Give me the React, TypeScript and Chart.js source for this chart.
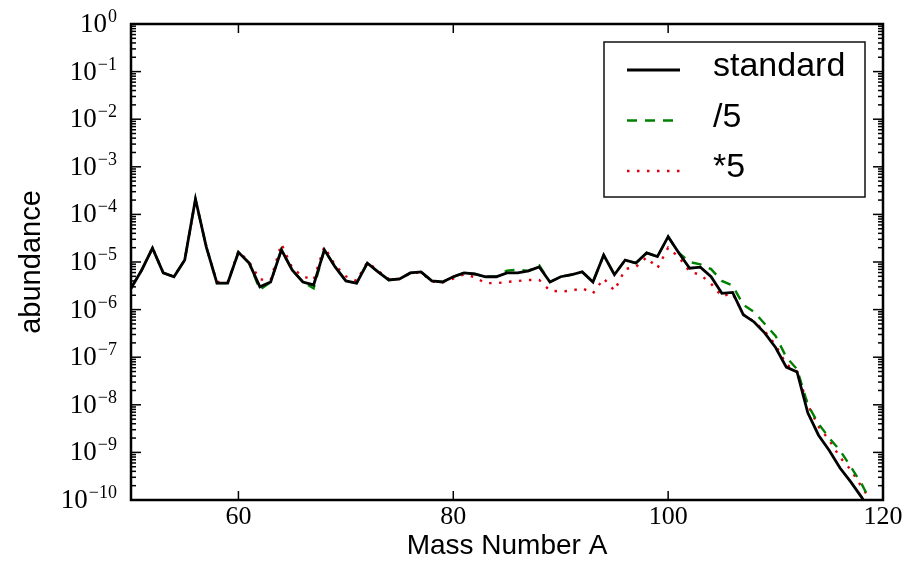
import React, { useEffect, useRef } from "react";
import { Chart, registerables } from "chart.js";

Chart.register(...registerables);

const massNumbers = [
  50, 51, 52, 53, 54, 55, 56, 57, 58, 59,
  60, 61, 62, 63, 64, 65, 66, 67, 68, 69,
  70, 71, 72, 73, 74, 75, 76, 77, 78, 79,
  80, 81, 82, 83, 84, 85, 86, 87, 88, 89,
  90, 91, 92, 93, 94, 95, 96, 97, 98, 99,
  100, 101, 102, 103, 104, 105, 106, 107, 108, 109,
  110, 111, 112, 113, 114, 115, 116, 117, 118, 119,
  120,
];

const standard = [
  2.8e-6, 6.8e-6, 1.95e-5, 5.9e-6, 4.9e-6, 1.1e-5, 2.1e-4, 2.1e-5, 3.6e-6, 3.6e-6,
  1.6e-5, 9.5e-6, 3.0e-6, 3.8e-6, 1.8e-5, 6.8e-6, 3.8e-6, 3.3e-6, 1.8e-5, 7.9e-6,
  4.0e-6, 3.6e-6, 9.5e-6, 6.2e-6, 4.2e-6, 4.4e-6, 5.9e-6, 6.2e-6, 4.0e-6, 3.8e-6,
  4.9e-6, 5.9e-6, 5.6e-6, 4.9e-6, 4.9e-6, 5.9e-6, 5.9e-6, 6.5e-6, 7.9e-6, 3.8e-6,
  4.9e-6, 5.4e-6, 6.2e-6, 3.8e-6, 1.4e-5, 5.4e-6, 1.1e-5, 9.5e-6, 1.55e-5, 1.3e-5,
  3.4e-5, 1.55e-5, 7.4e-6, 7.8e-6, 4.9e-6, 2.2e-6, 2.3e-6, 7.8e-7, 5.5e-7, 3.2e-7,
  1.6e-7, 6.2e-8, 4.9e-8, 6.8e-9, 2.3e-9, 1.1e-9, 4.7e-10, 2.4e-10, 1.15e-10, 5.0e-11,
  2.5e-11,
];

const divided5 = [
  2.8e-6, 6.8e-6, 1.95e-5, 5.9e-6, 4.9e-6, 1.1e-5, 2.1e-4, 2.1e-5, 3.6e-6, 3.6e-6,
  1.6e-5, 9.5e-6, 2.6e-6, 3.8e-6, 1.8e-5, 6.8e-6, 3.8e-6, 2.8e-6, 1.8e-5, 7.9e-6,
  4.0e-6, 3.6e-6, 9.5e-6, 6.2e-6, 4.2e-6, 4.4e-6, 5.9e-6, 6.2e-6, 4.0e-6, 3.8e-6,
  4.9e-6, 5.9e-6, 5.6e-6, 4.9e-6, 4.9e-6, 6.6e-6, 6.9e-6, 6.5e-6, 8.5e-6, 3.8e-6,
  4.9e-6, 5.4e-6, 6.2e-6, 3.8e-6, 1.4e-5, 5.4e-6, 1.1e-5, 9.5e-6, 1.55e-5, 1.3e-5,
  3.4e-5, 1.55e-5, 1.0e-5, 8.9e-6, 7.1e-6, 4.0e-6, 3.2e-6, 1.26e-6, 8.9e-7, 5.0e-7,
  2.8e-7, 1.0e-7, 5.6e-8, 1.0e-8, 4.0e-9, 2.0e-9, 1.1e-9, 5.0e-10, 2.2e-10, 8.0e-11,
  3.0e-11,
];

const times5 = [
  2.8e-6, 6.8e-6, 2.0e-5, 5.9e-6, 5.0e-6, 1.1e-5, 2.0e-4, 2.2e-5, 3.8e-6, 3.8e-6,
  1.7e-5, 1.0e-5, 4.3e-6, 4.2e-6, 2.4e-5, 7.5e-6, 5.0e-6, 4.2e-6, 2.1e-5, 8.5e-6,
  5.0e-6, 4.0e-6, 1.0e-5, 6.5e-6, 4.4e-6, 4.4e-6, 5.8e-6, 6.0e-6, 3.9e-6, 3.7e-6,
  4.5e-6, 5.5e-6, 4.8e-6, 3.6e-6, 3.6e-6, 3.8e-6, 4.0e-6, 4.2e-6, 4.2e-6, 2.5e-6,
  2.4e-6, 2.5e-6, 2.8e-6, 2.2e-6, 4.5e-6, 2.5e-6, 7.1e-6, 7.9e-6, 1.26e-5, 7.4e-6,
  2.0e-5, 1.26e-5, 6.3e-6, 5.4e-6, 3.5e-6, 1.9e-6, 2.2e-6, 7.9e-7, 5.6e-7, 3.5e-7,
  1.8e-7, 7.1e-8, 5.0e-8, 1.0e-8, 3.5e-9, 1.8e-9, 7.9e-10, 4.3e-10, 1.9e-10, 8.9e-11,
  null,
];

const seriesLabels = ["standard", "/5", "*5"];
const xTickValues = [60, 80, 100, 120];
const yExponents = [0, -1, -2, -3, -4, -5, -6, -7, -8, -9, -10];

const SERIF = "'Liberation Serif', 'Times New Roman', serif";
const SANS = "'Liberation Sans', Arial, sans-serif";

const decorPlugin = {
  id: "decor",
  afterDraw(chart: any) {
    const { ctx, chartArea: a, scales } = chart;
    const xs = scales.x;
    const ys = scales.y;
    ctx.save();
    const seg = (x1: number, y1: number, x2: number, y2: number) => {
      ctx.beginPath();
      ctx.moveTo(x1, y1);
      ctx.lineTo(x2, y2);
      ctx.stroke();
    };
    // inward ticks on y (both sides)
    ctx.strokeStyle = "#000";
    ctx.lineWidth = 1.5;
    for (const e of yExponents) {
      for (let m = 1; m <= 9; m++) {
        const v = m * Math.pow(10, e);
        if (v > 1.0000001) break;
        const y = ys.getPixelForValue(v);
        const len = m === 1 ? 10 : 5;
        seg(a.left, y, a.left + len, y);
        seg(a.right, y, a.right - len, y);
      }
    }
    // inward ticks on x (top and bottom)
    for (const v of xTickValues) {
      const x = xs.getPixelForValue(v);
      seg(x, a.bottom, x, a.bottom - 9);
      seg(x, a.top, x, a.top + 9);
    }
    // frame
    ctx.lineWidth = 2.5;
    ctx.strokeRect(a.left, a.top, a.right - a.left, a.bottom - a.top);

    // y tick labels with superscripts
    ctx.fillStyle = "#000";
    const groupRight = a.left - 14;
    for (const e of yExponents) {
      const y = ys.getPixelForValue(Math.pow(10, e));
      const expText = e === 0 ? "0" : "\u2212" + Math.abs(e);
      ctx.font = `18px ${SERIF}`;
      ctx.textAlign = "left";
      ctx.textBaseline = "alphabetic";
      const ew = ctx.measureText(expText).width;
      ctx.fillText(expText, groupRight - ew, y - 2);
      ctx.font = `27px ${SERIF}`;
      ctx.textAlign = "right";
      ctx.fillText("10", groupRight - ew - 1, y + 8);
    }

    // legend
    const lw = 261;
    const lh = 155;
    const lx = a.right - 18 - lw;
    const ly = a.top + 18;
    ctx.fillStyle = "#fff";
    ctx.fillRect(lx, ly, lw, lh);
    ctx.strokeStyle = "#111";
    ctx.lineWidth = 1.5;
    ctx.strokeRect(lx, ly, lw, lh);
    chart.data.datasets.forEach((ds: any, i: number) => {
      const yy = ly + 28 + i * 50.5;
      ctx.save();
      ctx.strokeStyle = ds.borderColor;
      ctx.lineWidth = ds.borderWidth;
      ctx.setLineDash(ds.borderDash || []);
      seg(lx + 23, yy, lx + 76, yy);
      ctx.restore();
      ctx.fillStyle = "#000";
      ctx.font = `34px ${SANS}`;
      ctx.textAlign = "left";
      ctx.textBaseline = "middle";
      ctx.fillText(ds.label, lx + 109, yy - 3);
    });
    ctx.restore();
  },
};

export default function App() {
  const canvasRef = useRef<HTMLCanvasElement | null>(null);

  useEffect(() => {
    document.body.style.margin = "0";
    const canvas = canvasRef.current;
    if (!canvas) return;
    const toPoints = (arr: (number | null)[]) =>
      massNumbers.map((x, i) => ({ x, y: arr[i] }));

    const chart = new Chart(canvas, {
      type: "line",
      data: {
        datasets: [
          {
            label: seriesLabels[0],
            data: toPoints(standard) as any,
            borderColor: "#000000",
            borderWidth: 2.8,
            pointRadius: 0,
            fill: false,
            tension: 0,
          },
          {
            label: seriesLabels[1],
            data: toPoints(divided5) as any,
            borderColor: "#008000",
            borderWidth: 2.4,
            borderDash: [10, 8],
            pointRadius: 0,
            fill: false,
            tension: 0,
          },
          {
            label: seriesLabels[2],
            data: toPoints(times5) as any,
            borderColor: "#e00010",
            borderWidth: 2.4,
            borderDash: [2.5, 7.5],
            pointRadius: 0,
            fill: false,
            tension: 0,
          },
        ],
      },
      options: {
        responsive: false,
        animation: false,
        devicePixelRatio: 1,
        layout: { padding: { left: 0, top: 24, right: 34, bottom: 0 } },
        plugins: {
          legend: { display: false },
          tooltip: { enabled: false },
        },
        scales: {
          x: {
            type: "linear",
            min: 50,
            max: 120,
            grid: { display: false, drawTicks: false },
            border: { display: false },
            afterBuildTicks: (scale: any) => {
              scale.ticks = xTickValues.map((v) => ({ value: v }));
            },
            afterFit: (scale: any) => {
              scale.height = 63;
            },
            ticks: {
              autoSkip: false,
              maxRotation: 0,
              padding: 2,
              color: "#000",
              font: { family: SERIF, size: 26 },
              callback: (v: any) => String(v),
            },
            title: {
              display: true,
              text: "Mass Number A",
              color: "#000",
              font: { family: SANS, size: 28 },
              padding: { top: 0, bottom: 0 },
            },
          },
          y: {
            type: "logarithmic",
            min: 1e-10,
            max: 1,
            grid: { display: false, drawTicks: false },
            border: { display: false },
            ticks: { display: false },
            afterFit: (scale: any) => {
              scale.width = 131;
            },
            title: {
              display: true,
              text: "abundance",
              color: "#000",
              font: { family: SANS, size: 29 },
              padding: { top: 15, bottom: 0 },
            },
          },
        },
      },
      plugins: [decorPlugin],
    });
    return () => chart.destroy();
  }, []);

  return (
    <div style={{ width: 917, height: 563, background: "#fff" }}>
      <canvas ref={canvasRef} width={917} height={563} style={{ display: "block" }} />
    </div>
  );
}
